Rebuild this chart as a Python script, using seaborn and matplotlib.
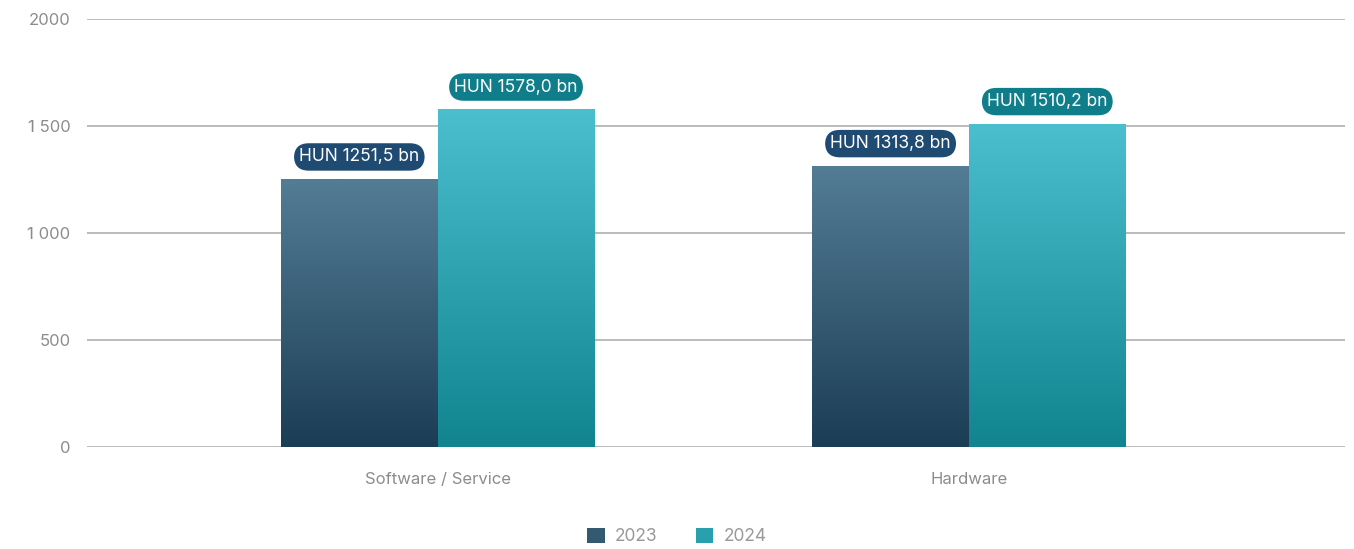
import numpy as np
import pandas as pd
import matplotlib
matplotlib.use("Agg")
import matplotlib.pyplot as plt
from matplotlib.colors import LinearSegmentedColormap
from matplotlib.patches import Patch
import seaborn as sns

# data
categories = ["Software / Service", "Hardware"]
years = ["2023", "2024"]
values_2023 = [1251.5, 1313.8]
values_2024 = [1578.0, 1510.2]
bar_labels_2023 = ["HUN 1251,5 bn", "HUN 1313,8 bn"]
bar_labels_2024 = ["HUN 1578,0 bn", "HUN 1510,2 bn"]
y_ticks = [0, 500, 1000, 1500, 2000]
y_tick_labels = ["0", "500", "1 000", "1 500", "2000"]

df = pd.DataFrame({
    "category": categories * 2,
    "year": [years[0]] * 2 + [years[1]] * 2,
    "value": values_2023 + values_2024,
})

# gradient colours (top, bottom) and label box colours
grad = {"2023": ("#537d95", "#1b3d55"), "2024": ("#4cbfcf", "#118490")}
box_col = {"2023": "#1f4b73", "2024": "#0f7e8a"}

sns.set_theme(style="white")
plt.rcParams["font.family"] = ["Inter", "DejaVu Sans"]

fig = plt.figure(figsize=(13.54, 5.49), dpi=100)
ax = fig.add_axes([0.0643, 0.1858, 0.9291, 0.7796])

sns.barplot(data=df, x="category", y="value", hue="year", hue_order=years,
            order=categories, width=0.59, dodge=True, gap=0, ax=ax,
            palette=[grad["2023"][1], grad["2024"][1]], legend=False,
            saturation=1)

# replace flat bars with vertical gradients
for container, yr, labs in zip(ax.containers, years, [bar_labels_2023, bar_labels_2024]):
    cmap = LinearSegmentedColormap.from_list(yr, [grad[yr][1], grad[yr][0]])
    for bar, lab in zip(container, labs):
        x0, w, h = bar.get_x(), bar.get_width(), bar.get_height()
        bar.set_facecolor("none")
        bar.set_edgecolor("none")
        im = ax.imshow(np.linspace(0, 1, 256).reshape(-1, 1), cmap=cmap,
                       extent=[x0, x0 + w, 0, h], origin="lower",
                       aspect="auto", zorder=2)
        im.set_clip_path(bar)
        ax.annotate(lab, (x0 + w / 2, h), xytext=(0, 16), textcoords="offset points",
                    ha="center", va="center", color="white", fontsize=12.5,
                    bbox=dict(boxstyle="round,pad=0.3,rounding_size=0.85",
                              fc=box_col[yr], ec="none"), zorder=5)
ax.set_xlim(-0.66, 1.708)
ax.set_ylim(0, 2000)

ax.set_yticks(y_ticks)
ax.set_yticklabels(y_tick_labels)
ax.yaxis.grid(True, color="#a8a8a8", linewidth=1.1)
ax.set_axisbelow(True)
ax.tick_params(axis="both", length=0, colors="#8c8c8c", labelsize=12)
ax.tick_params(axis="y", pad=12)
ax.tick_params(axis="x", pad=18)
ax.set_xlabel("")
ax.set_ylabel("")
for s in ax.spines.values():
    s.set_visible(False)

handles = [Patch(facecolor="#345a72", edgecolor="none"),
           Patch(facecolor="#2a9fae", edgecolor="none")]
fig.legend(handles, years, loc="lower center", bbox_to_anchor=(0.5, -0.022),
           ncol=2, frameon=False, fontsize=12.5, labelcolor="#999999",
           handlelength=1.0, handleheight=1.0, columnspacing=2.2,
           handletextpad=0.6)

fig.savefig("out.png", dpi=100)
